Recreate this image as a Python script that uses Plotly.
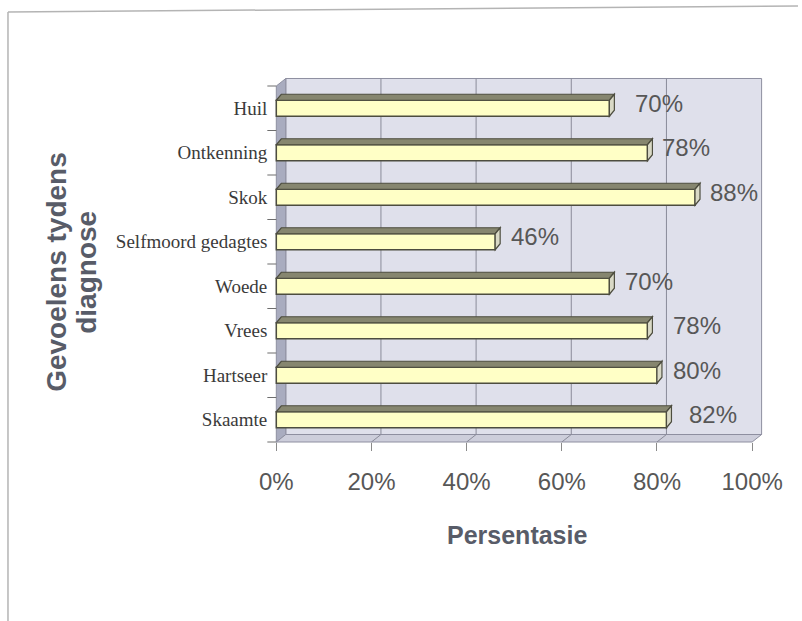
import plotly.graph_objects as go

# ---- data -------------------------------------------------------------
categories = ["Huil", "Ontkenning", "Skok", "Selfmoord gedagtes",
              "Woede", "Vrees", "Hartseer", "Skaamte"]
percentages = [70, 78, 88, 46, 70, 78, 80, 82]
x_ticks = [0, 20, 40, 60, 80, 100]
x_tick_labels = ["0%", "20%", "40%", "60%", "80%", "100%"]
x_title = "Persentasie"
y_title_lines = ["Gevoelens tydens", "diagnose"]

# gap in px between each bar end and its value label
label_gap_px = [24, 13, 13, 14, 14, 24, 14, 21]

# ---- geometry ---------------------------------------------------------
W, H = 802, 621
X0, XS = 277, 4.77      # px of 0 %, px per percent on the front plane
Y0, YS = 442, 44.5      # px of the floor front edge, px per category slot
n = len(categories)
rows = list(range(n - 1, -1, -1))   # first category on top

xr = (-5, 106)
yr = (-1.0, n - 0.5 + 0.35)


def xpx(v):
    return X0 + v * XS


def ypx(v):
    return Y0 - (v + 0.5) * YS


x_dom = [xpx(xr[0]) / W, xpx(xr[1]) / W]
y_dom = [1 - ypx(yr[0]) / H, 1 - ypx(yr[1]) / H]

DX, DY = 9.5 / XS, 7.5 / YS      # depth of the walls
BW = 16 / YS                     # bar thickness
BDX, BDY = 5 / XS, 6 / YS        # depth of the bars

WALL = "#dfe0eb"
SIDE_WALL = "#a9acbf"
FLOOR = "#cdcedb"
EDGE = "#8e8fa0"
BAR = "#ffffc6"
BAR_TOP = "#86866f"
BAR_SIDE = "#d9d9c6"
BAR_EDGE = "#4d4d3f"
TEXT = "#575757"
TITLE = "#585c68"


def poly(pts):
    return "M " + " L ".join(f"{x},{y}" for x, y in pts) + " Z"


shapes = []
lo, hi = -0.5, n - 0.5
# back wall
shapes.append(dict(type="rect", xref="x", yref="y", x0=DX, x1=100 + DX,
                   y0=lo + DY, y1=hi + DY, fillcolor=WALL,
                   line=dict(color=EDGE, width=1), layer="below"))
# left wall
shapes.append(dict(type="path", xref="x", yref="y",
                   path=poly([(0, lo), (DX, lo + DY), (DX, hi + DY), (0, hi)]),
                   fillcolor=SIDE_WALL, line=dict(color=EDGE, width=1),
                   layer="below"))
# floor
shapes.append(dict(type="path", xref="x", yref="y",
                   path=poly([(0, lo), (100, lo), (100 + DX, lo + DY), (DX, lo + DY)]),
                   fillcolor=FLOOR, line=dict(color=EDGE, width=1),
                   layer="below"))
# gridlines on the back wall and across the floor
for t in x_ticks[1:-1]:
    shapes.append(dict(type="line", xref="x", yref="y", x0=t + DX, x1=t + DX,
                       y0=lo + DY, y1=hi + DY,
                       line=dict(color="#8a8b99", width=1), layer="below"))
    shapes.append(dict(type="line", xref="x", yref="y", x0=t, x1=t + DX,
                       y0=lo, y1=lo + DY,
                       line=dict(color="#8a8b99", width=1), layer="below"))

# category separator ticks on the left of the side wall
for k in range(n + 1):
    shapes.append(dict(type="line", xref="x", yref="y",
                       x0=-9 / XS, x1=0, y0=lo + k, y1=lo + k,
                       line=dict(color="#6e6e6e", width=1.2)))

# top and end faces of each bar
for r, v in zip(rows, percentages):
    yt, yb = r + BW / 2, r - BW / 2
    shapes.append(dict(type="path", xref="x", yref="y",
                       path=poly([(0, yt), (v, yt), (v + BDX, yt + BDY), (BDX, yt + BDY)]),
                       fillcolor=BAR_TOP, line=dict(color=BAR_EDGE, width=1.2)))
    shapes.append(dict(type="path", xref="x", yref="y",
                       path=poly([(v, yb), (v + BDX, yb + BDY), (v + BDX, yt + BDY), (v, yt)]),
                       fillcolor=BAR_SIDE, line=dict(color=BAR_EDGE, width=1.2)))

# outer frame
shapes.append(dict(type="line", xref="paper", yref="paper",
                   x0=8 / W, x1=8 / W, y0=0, y1=1 - 12 / H,
                   line=dict(color="#b4b4b4", width=1.5)))
shapes.append(dict(type="line", xref="paper", yref="paper",
                   x0=8 / W, x1=800 / W, y0=1 - 12 / H, y1=1 - 6 / H,
                   line=dict(color="#b4b4b4", width=1.5)))

fig = go.Figure(go.Bar(
    x=percentages, y=rows, orientation="h", width=BW,
    marker=dict(color=BAR, line=dict(color=BAR_EDGE, width=1.5)),
    hoverinfo="skip",
))

annotations = []
for r, v, gap in zip(rows, percentages, label_gap_px):
    annotations.append(dict(x=v, y=r, xref="x", yref="y", text=f"{v}%",
                            showarrow=False, xanchor="left", yanchor="middle",
                            xshift=gap, yshift=5,
                            font=dict(family="Liberation Sans, Arial", size=24,
                                      color=TEXT)))
annotations.append(dict(x=518 / W, y=1 - 535 / H, xref="paper", yref="paper",
                        text=x_title, showarrow=False,
                        xanchor="center", yanchor="middle",
                        font=dict(family="Liberation Sans, Arial", size=25,
                                  color=TITLE, weight="bold")))
for i, line in enumerate(y_title_lines):
    annotations.append(dict(x=(57 + 30 * i) / W, y=1 - 272 / H,
                            xref="paper", yref="paper", text=line,
                            showarrow=False, textangle=-90,
                            xanchor="center", yanchor="middle",
                            font=dict(family="Liberation Sans, Arial", size=28,
                                      color=TITLE, weight="bold")))

fig.update_layout(
    width=W, height=H,
    margin=dict(l=0, r=0, t=0, b=0),
    paper_bgcolor="white", plot_bgcolor="rgba(0,0,0,0)",
    showlegend=False,
    shapes=shapes,
    annotations=annotations,
    xaxis=dict(domain=x_dom, range=list(xr), anchor="free",
               position=1 - Y0 / H,
               tickmode="array", tickvals=x_ticks, ticktext=x_tick_labels,
               ticks="outside", ticklen=8, tickcolor="#8a8a8a",
               ticklabelstandoff=10,
               tickfont=dict(family="Liberation Sans, Arial", size=24, color=TEXT),
               showgrid=False, zeroline=False, showline=False),
    yaxis=dict(domain=y_dom, range=list(yr), anchor="free",
               position=X0 / W,
               tickmode="array", tickvals=rows, ticktext=categories,
               ticks="", ticklabelstandoff=9,
               tickfont=dict(family="Liberation Serif, Times New Roman", size=19,
                             color="#3a3a3a"),
               showgrid=False, zeroline=False, showline=False),
)

fig.write_html("out.html")
